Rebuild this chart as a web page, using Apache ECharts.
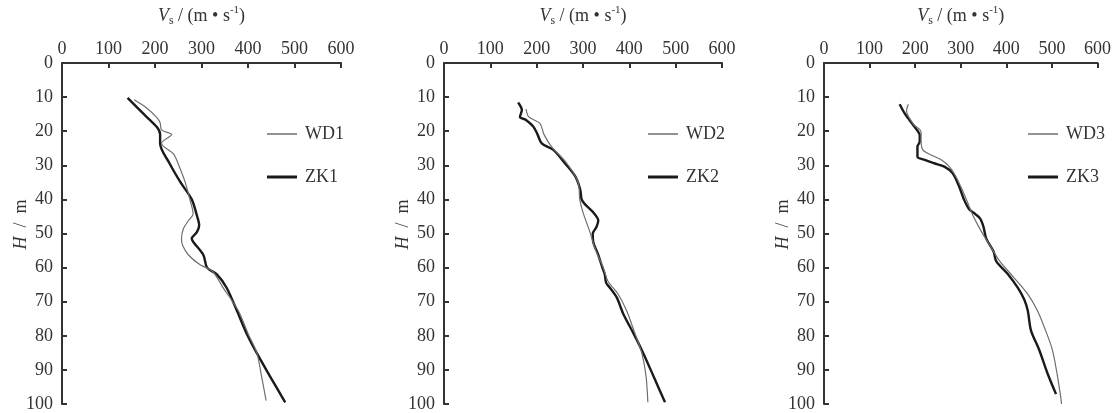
<!DOCTYPE html>
<html>
<head>
<meta charset="utf-8">
<script src="https://cdn.jsdelivr.net/npm/echarts@6/dist/echarts.min.js"></script>
<style>
  html, body { margin: 0; padding: 0; background: #fff; }
  #myChart { width: 1114px; height: 413px; }
</style>
</head>
<body>
<div id="myChart"></div>
<script>
// 剪切波速随深度变化 (three boreholes)
var wd1Depth = [10.8, 13, 16, 17.5, 19.6, 21, 22.7, 23.6, 26.7, 29.6, 35, 40, 44.3, 46.2, 48.6, 51.5, 53.4, 56.3, 59.2, 61, 66, 72.6, 79.3, 85, 91.8, 99]
var wd1Vs = [155, 180, 204, 211, 214, 236, 219, 214, 240, 250, 265, 275, 282, 272, 261, 257, 259, 272, 297, 323, 347, 379, 400, 419, 429, 439]
var zk1Depth = [10.2, 15, 18.8, 21, 23.6, 29.6, 35, 40, 44.7, 47.6, 49.6, 51.5, 52.4, 56.3, 60, 62, 65.9, 72.6, 79.3, 85.1, 91.8, 99.5]
var zk1Vs = [141, 176, 204, 211, 211, 232, 255, 279, 290, 295, 290, 279, 282, 304, 312, 333, 354, 376, 397, 419, 447, 480]

var wd2Depth = [13.5, 15.8, 17.7, 21, 24.5, 29.4, 35.2, 40, 43.8, 49.6, 54.4, 60.1, 64, 67.8, 72.6, 79.3, 85.1, 91.8, 99.5]
var wd2Vs = [177, 183, 207, 216, 232, 265, 290, 293, 300, 315, 326, 344, 354, 376, 394, 412, 427, 436, 440]
var zk2Depth = [11.6, 13.8, 15.8, 16.7, 18.7, 21, 23.6, 25.5, 29.4, 33.2, 37.1, 40, 41.4, 43.8, 46.2, 48.1, 50.1, 52.4, 56.3, 60.1, 62, 64.5, 65.9, 68.8, 73.6, 79.3, 85.1, 91.8, 99.5]
var zk2Vs = [160, 168, 164, 177, 193, 202, 211, 236, 261, 283, 294, 297, 304, 322, 333, 329, 321, 322, 333, 342, 347, 350, 358, 373, 387, 409, 430, 452, 477]

var wd3Depth = [12.1, 14, 17.9, 20.3, 22.7, 25.5, 27, 28.4, 30.4, 33.2, 37.1, 40.9, 44.8, 49.6, 54.4, 58.2, 63, 67.8, 72.6, 78.4, 84.1, 90.9, 98.6, 100]
var wd3Vs = [185, 181, 196, 213, 213, 217, 235, 257, 275, 289, 303, 315, 327, 346, 368, 386, 417, 447, 468, 486, 501, 511, 520, 521]
var zk3Depth = [12.1, 15, 18.8, 21.2, 23.1, 24.5, 27.5, 28.4, 29.4, 30.4, 32.3, 36.1, 40, 42.8, 44.3, 45.7, 48.1, 51.5, 55.3, 58.2, 62, 65.9, 69.3, 72.6, 78.4, 84.1, 90.9, 97.1]
var zk3Vs = [166, 178, 199, 210, 210, 205, 205, 221, 242, 264, 282, 296, 307, 318, 332, 343, 350, 356, 372, 378, 404, 425, 439, 447, 454, 472, 490, 509]

var wdNames = ['WD1', 'WD2', 'WD3']
var zkNames = ['ZK1', 'ZK2', 'ZK3']
var vsTicks = [0, 100, 200, 300, 400, 500, 600]
var depthTicks = [0, 10, 20, 30, 40, 50, 60, 70, 80, 90, 100]

var serif = 'Liberation Serif'
var axisColor = '#333'
var wdColor = '#6e6e6e'
var zkColor = '#1a1a1a'

function pairs(vs, depth) {
  var out = []
  for (var i = 0; i < vs.length; i++) {
    out.push([vs[i], depth[i]])
  }
  return out
}

var panels = [
  { left: 62, width: 279, wd: pairs(wd1Vs, wd1Depth), zk: pairs(zk1Vs, zk1Depth), legendLeft: 262 },
  { left: 444, width: 278, wd: pairs(wd2Vs, wd2Depth), zk: pairs(zk2Vs, zk2Depth), legendLeft: 643 },
  { left: 824, width: 279, wd: pairs(wd3Vs, wd3Depth), zk: pairs(zk3Vs, zk3Depth), legendLeft: 1023 }
]

var grid = [], xAxis = [], yAxis = [], series = [], legend = []

panels.forEach(function (p, k) {
  grid.push({ left: p.left, width: p.width, top: 58, height: 347 })

  xAxis.push({
    gridIndex: k,
    type: 'value',
    position: 'top',
    min: vsTicks[0],
    max: vsTicks[vsTicks.length - 1],
    interval: 100,
    name: '{i|V}{sub|s}{t| / (m • s}{sup|-1}{t|)}',
    nameLocation: 'middle',
    nameGap: 36,
    nameMoveOverlap: false,
    nameTextStyle: {
      rich: {
        i: { fontFamily: serif, fontSize: 18, fontStyle: 'italic', color: axisColor, lineHeight: 22 },
        sub: { fontFamily: serif, fontSize: 12, color: axisColor, verticalAlign: 'bottom', lineHeight: 20 },
        sup: { fontFamily: serif, fontSize: 11, color: axisColor, verticalAlign: 'top', lineHeight: 18 },
        t: { fontFamily: serif, fontSize: 18, color: axisColor, lineHeight: 22 }
      }
    },
    axisLine: { lineStyle: { color: axisColor, width: 2 } },
    axisTick: { inside: true, length: 5, lineStyle: { color: axisColor, width: 2 } },
    axisLabel: { fontFamily: serif, fontSize: 18, color: axisColor, margin: 5 },
    splitLine: { show: false }
  })

  yAxis.push({
    gridIndex: k,
    type: 'value',
    inverse: true,
    min: depthTicks[0],
    max: depthTicks[depthTicks.length - 1],
    interval: 10,
    // leading blank pushes the rotated title a little upward
    name: '{t|    }{i|H}{t|  /  m}',
    nameLocation: 'middle',
    nameGap: 32,
    nameMoveOverlap: false,
    nameTextStyle: {
      rich: {
        i: { fontFamily: serif, fontSize: 18, fontStyle: 'italic', color: axisColor },
        t: { fontFamily: serif, fontSize: 18, color: axisColor }
      }
    },
    axisLine: { lineStyle: { color: axisColor, width: 2 } },
    axisTick: { inside: true, length: 5, lineStyle: { color: axisColor, width: 2 } },
    axisLabel: { fontFamily: serif, fontSize: 18, color: axisColor, margin: 9 },
    splitLine: { show: false }
  })

  // 实测 (thin grey) and 钻孔 (thick black)
  series.push({
    name: wdNames[k],
    type: 'line',
    xAxisIndex: k,
    yAxisIndex: k,
    data: p.wd,
    symbol: 'none',
    smooth: 0.3,
    lineStyle: { color: wdColor, width: 1.2 },
    itemStyle: { color: wdColor },
    z: 3
  })
  series.push({
    name: zkNames[k],
    type: 'line',
    xAxisIndex: k,
    yAxisIndex: k,
    data: p.zk,
    symbol: 'none',
    smooth: 0.3,
    lineStyle: { color: zkColor, width: 2.4 },
    itemStyle: { color: zkColor },
    z: 2
  })

  // legend: plain line swatches, thin for WD and thick for ZK
  legend.push({
    left: p.legendLeft,
    top: 120,
    icon: 'rect',
    itemWidth: 30,
    itemHeight: 1.5,
    data: [wdNames[k]],
    textStyle: { fontFamily: serif, fontSize: 18, color: axisColor, padding: [0, 0, 0, 3] }
  })
  legend.push({
    left: p.legendLeft,
    top: 163,
    icon: 'rect',
    itemWidth: 30,
    itemHeight: 3,
    data: [zkNames[k]],
    textStyle: { fontFamily: serif, fontSize: 18, color: axisColor, padding: [0, 0, 0, 3] }
  })
})

var myChart = echarts.init(document.getElementById('myChart'))
myChart.setOption({
  animation: false,
  grid: grid,
  xAxis: xAxis,
  yAxis: yAxis,
  legend: legend,
  series: series
})
</script>
</body>
</html>
